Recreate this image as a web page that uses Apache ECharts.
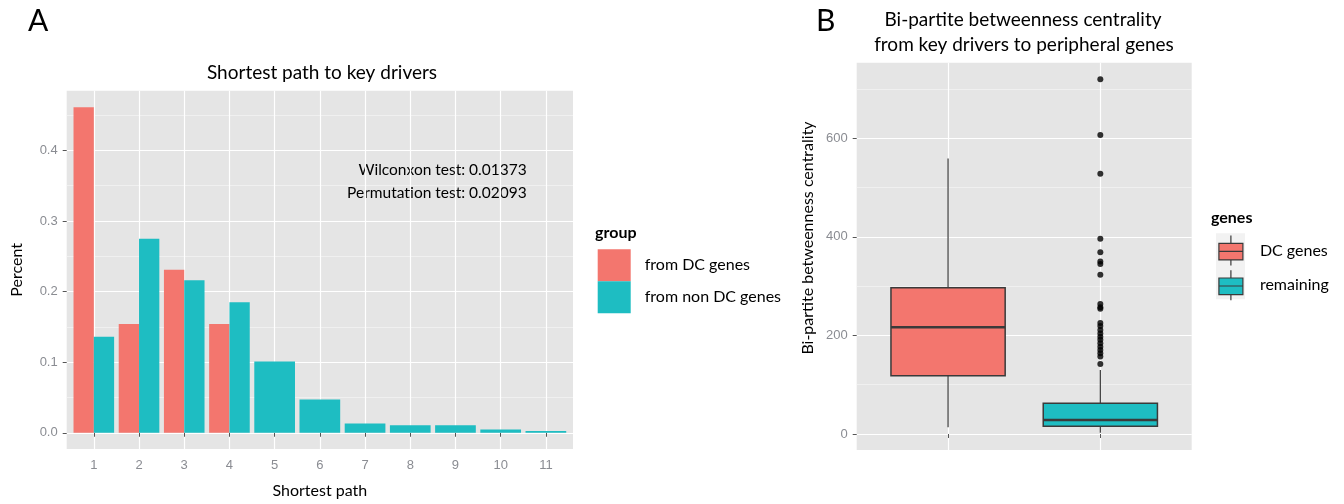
<!DOCTYPE html>
<html lang="en">
<head>
<meta charset="UTF-8">
<title>Shortest path / betweenness centrality</title>
<script src="https://cdn.jsdelivr.net/npm/echarts@6/dist/echarts.min.js"></script>
<style>
  html, body { margin: 0; padding: 0; background: #fff; }
  #main { width: 1344px; height: 504px; }
</style>
</head>
<body>
<div id="main"></div>
<script>
// panel A: share of genes per shortest path length
var pathLengths = [1, 2, 3, 4, 5, 6, 7, 8, 9, 10, 11];
var fromDC = [0.461, 0.154, 0.231, 0.154, null, null, null, null, null, null, null];
var fromNonDC = [0.136, 0.275, 0.216, 0.185, 0.101, 0.047, 0.013, 0.0105, 0.0105, 0.0045, 0.0025];
var percentTicks = [0, 0.1, 0.2, 0.3, 0.4];

// panel B: box stats [min, q1, median, q3, max]
var geneGroups = ['DC genes', 'remaining'];
var boxStats = [
    [13.5, 118, 216.5, 297, 559],
    [2.7, 15.5, 28.4, 62.2, 130]
];
var remainingOutliers = [720, 607, 528, 396, 369, 350, 345, 323, 264, 257, 254,
    225, 219, 211, 204, 197.5, 191, 184, 177, 170.5, 164, 157, 142];
var centralityTicks = [0, 200, 400, 600];

var RED = '#F3766E', TEAL = '#1EBDC2';
var PANEL = '#E5E5E5', TICKTXT = '#8A8C92', TICK = '#555555';
var TXT = 'Lato, "Open Sans", sans-serif';
var NUM = '"Liberation Sans", Arial, sans-serif';

var chart = echarts.init(document.getElementById('main'));

// ggplot dodge: two groups share a slot, a lone group takes the whole slot
var redBars = [], tealPaired = [], tealAlone = [];
pathLengths.forEach(function (p, i) {
    if (fromDC[i] != null) {
        redBars.push([p, fromDC[i]]);
        tealPaired.push([p, fromNonDC[i]]);
    } else {
        tealAlone.push([p, fromNonDC[i]]);
    }
});

function renderBox(params, api) {
    var x = api.value(0);
    var lo = api.coord([x, api.value(1)]);
    var q1 = api.coord([x, api.value(2)]);
    var md = api.coord([x, api.value(3)]);
    var q3 = api.coord([x, api.value(4)]);
    var hi = api.coord([x, api.value(5)]);
    var half = api.size([0.75, 0])[0] / 2;
    var stroke = '#3a3a3a';
    return {
        type: 'group',
        children: [
            { type: 'line', shape: { x1: lo[0], y1: lo[1], x2: q1[0], y2: q1[1] }, style: { stroke: stroke, lineWidth: 1.2 } },
            { type: 'line', shape: { x1: q3[0], y1: q3[1], x2: hi[0], y2: hi[1] }, style: { stroke: stroke, lineWidth: 1.2 } },
            { type: 'rect', shape: { x: q3[0] - half, y: q3[1], width: half * 2, height: q1[1] - q3[1] },
              style: { fill: api.visual('color'), stroke: stroke, lineWidth: 1.5 } },
            { type: 'line', shape: { x1: md[0] - half, y1: md[1], x2: md[0] + half, y2: md[1] }, style: { stroke: stroke, lineWidth: 2.6 } }
        ]
    };
}

var splitMajor = { show: true, lineStyle: { color: '#ffffff', width: 1.2 } };
var splitMinor = { show: true, lineStyle: { color: '#F2F2F2', width: 0.8 } };
var tickStyle = { show: true, length: 4, lineStyle: { color: TICK, width: 1 } };

function txt(x, y, s, size, opts) {
    opts = opts || {};
    return {
        type: 'text', x: x, y: y, silent: true, rotation: opts.rotation || 0,
        style: {
            text: s, fill: '#000', font: (opts.bold ? 'bold ' : '') + size + 'px ' + TXT,
            textAlign: opts.align || 'left', align: opts.align || 'left',
            textVerticalAlign: 'middle', verticalAlign: 'middle'
        }
    };
}

chart.setOption({
    animation: false,
    backgroundColor: '#ffffff',
    grid: [
        { left: 66.7, top: 90.7, width: 506.3, height: 359.3, show: true, backgroundColor: PANEL, borderWidth: 0 },
        { left: 856.7, top: 62.7, width: 335, height: 387.3, show: true, backgroundColor: PANEL, borderWidth: 0 }
    ],
    xAxis: [
        {
            gridIndex: 0, type: 'value', min: 0.4, max: 11.6, splitNumber: 11,
            axisLine: { show: false },
            axisTick: Object.assign({ customValues: pathLengths }, tickStyle),
            axisLabel: { customValues: pathLengths, color: TICKTXT, fontFamily: NUM, fontSize: 13, margin: 10 },
            splitLine: splitMajor,
            name: 'Shortest path', nameLocation: 'middle', nameGap: 34,
            nameTextStyle: { color: '#000', fontFamily: TXT, fontSize: 16 }
        },
        { gridIndex: 0, type: 'value', min: 0.4, max: 11.6, show: false },
        {
            gridIndex: 1, type: 'value', min: 0.4, max: 2.6, splitNumber: 2,
            axisLine: { show: false },
            axisTick: Object.assign({ customValues: [1, 2] }, tickStyle),
            axisLabel: { show: false },
            splitLine: splitMajor
        }
    ],
    yAxis: [
        {
            gridIndex: 0, type: 'value', min: -0.023, max: 0.4846, splitNumber: 5,
            axisLine: { show: false },
            axisTick: Object.assign({ customValues: percentTicks }, tickStyle),
            axisLabel: { customValues: percentTicks, color: TICKTXT, fontFamily: NUM, fontSize: 13, margin: 9,
                         formatter: function (v) { return v.toFixed(1); } },
            splitLine: splitMajor,
            minorTick: { show: false, splitNumber: 2 },
            minorSplitLine: splitMinor,
            name: 'Percent', nameLocation: 'middle', nameGap: 42,
            nameTextStyle: { color: '#000', fontFamily: TXT, fontSize: 16 }
        },
        {
            gridIndex: 1, type: 'value', min: -32.5, max: 753.5, splitNumber: 4,
            axisLine: { show: false },
            axisTick: Object.assign({ customValues: centralityTicks }, tickStyle),
            axisLabel: { customValues: centralityTicks, color: TICKTXT, fontFamily: NUM, fontSize: 13, margin: 9 },
            splitLine: splitMajor,
            minorTick: { show: false, splitNumber: 2 },
            minorSplitLine: splitMinor
        }
    ],
    legend: [
        {
            data: ['from DC genes', 'from non DC genes'], orient: 'vertical', selectedMode: false,
            left: 597.7, top: 249.3, padding: 0, itemWidth: 33, itemHeight: 32, itemGap: 0, icon: 'rect',
            textStyle: { color: '#000', fontFamily: TXT, fontSize: 16, padding: [0, 0, 0, 9] }
        },
        {
            data: geneGroups, orient: 'vertical', selectedMode: false,
            left: 1218.3, top: 235, padding: 0, itemWidth: 24, itemHeight: 30, itemGap: 3.5,
            icon: 'path://M12,0L12,7.7M0,7.7L24,7.7L24,24.3L0,24.3ZM0,15.7L24,15.7M12,24.3L12,30',
            itemStyle: { borderColor: '#3a3a3a', borderWidth: 1.2 },
            textStyle: { color: '#000', fontFamily: TXT, fontSize: 16, padding: [0, 0, 0, 12] }
        }
    ],
    graphic: [
        txt(28, 21, 'A', 30),
        txt(816, 21, 'B', 30),
        txt(322, 73, 'Shortest path to key drivers', 19, { align: 'center' }),
        txt(1023, 20, 'Bi-partite betweenness centrality', 19, { align: 'center' }),
        txt(1024, 45, 'from key drivers to peripheral genes', 19, { align: 'center' }),
        txt(808.3, 238, 'Bi-partite betweenness centrality', 16, { align: 'center', rotation: Math.PI / 2 }),
        txt(526.7, 170, 'Wilconxon test: 0.01373', 15.5, { align: 'right' }),
        txt(526.7, 192.7, 'Permutation test: 0.02093', 15.5, { align: 'right' }),
        txt(595, 233.3, 'group', 16, { bold: true }),
        txt(1211, 218.3, 'genes', 16, { bold: true }),
        { type: 'rect', z: -1, silent: true, shape: { x: 1216, y: 233.3, width: 29, height: 66 }, style: { fill: '#F2F2F2' } }
    ],
    series: [
        { type: 'bar', name: 'from DC genes', xAxisIndex: 0, yAxisIndex: 0, data: redBars,
          barWidth: 20.3, barGap: '0%', itemStyle: { color: RED } },
        { type: 'bar', name: 'from non DC genes', xAxisIndex: 0, yAxisIndex: 0, data: tealPaired,
          barWidth: 20.3, barGap: '0%', itemStyle: { color: TEAL } },
        { type: 'bar', name: 'from non DC genes', xAxisIndex: 1, yAxisIndex: 0, data: tealAlone,
          barWidth: 40.7, itemStyle: { color: TEAL } },
        { type: 'custom', name: geneGroups[0], xAxisIndex: 2, yAxisIndex: 1, renderItem: renderBox,
          encode: { x: 0, y: [1, 2, 3, 4, 5] }, itemStyle: { color: RED },
          data: [[1].concat(boxStats[0])] },
        { type: 'custom', name: geneGroups[1], xAxisIndex: 2, yAxisIndex: 1, renderItem: renderBox,
          encode: { x: 0, y: [1, 2, 3, 4, 5] }, itemStyle: { color: TEAL },
          data: [[2].concat(boxStats[1])] },
        { type: 'scatter', name: 'outliers', xAxisIndex: 2, yAxisIndex: 1, symbolSize: 6,
          itemStyle: { color: '#000' }, z: 3,
          data: remainingOutliers.map(function (v) { return [2, v]; }) }
    ]
});
</script>
</body>
</html>
